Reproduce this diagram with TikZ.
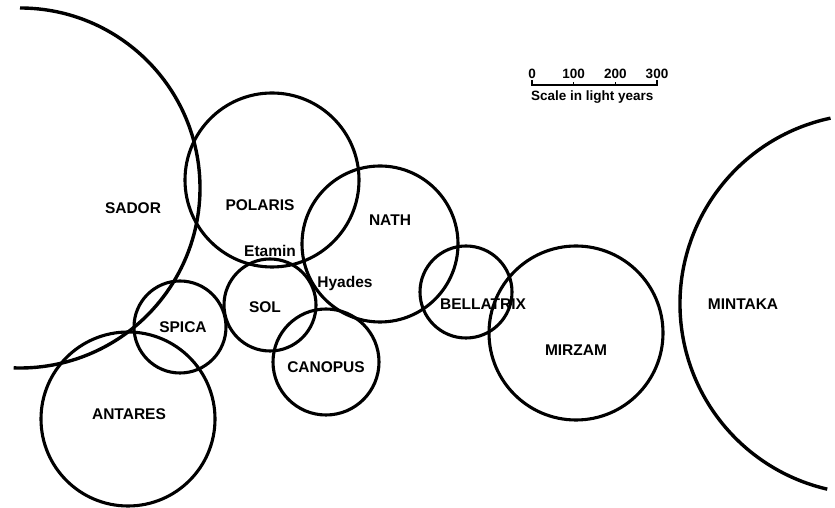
\documentclass[tikz,border=0pt]{standalone}
\usepackage{fontspec}
\setmainfont{Liberation Sans}
\usepackage{tikz}
\usetikzlibrary{positioning, calc}

\begin{document}
\begin{tikzpicture}[
    x=1pt,y=1pt,
    ring/.style={draw, circle, inner sep=0pt, line width=3.1pt},
    bigarc/.style={line width=3.4pt},
    starname/.style={font=\bfseries\fontsize{15.5}{15.5}\selectfont, inner sep=0pt},
    scaletext/.style={font=\bfseries\fontsize{13.5}{13.5}\selectfont, inner sep=0pt}
]
    \useasboundingbox (0,0) rectangle (835,508);

    % --- Giant stars (partly off the page) ---
    \draw[bigarc] (20,320) ++(90:180) arc[start angle=90, end angle=-92, radius=180];
    \draw[bigarc] (870,204) ++(102:190) arc[start angle=102, end angle=257, radius=190];

    % --- Stars ---
    \node[ring, minimum size=174pt] (polaris) at (272,328) {};
    \node[ring, minimum size=156pt] (nath) at (380,264) {};
    \node[ring, minimum size=92pt] (sol) at (270,203) {};
    \node[ring, minimum size=92pt] (spica) at (180,181) {};
    \node[ring, minimum size=106pt] (canopus) at (326,146) {};
    \node[ring, minimum size=174pt] (antares) at (128,89) {};
    \node[ring, minimum size=92pt] (bellatrix) at (466,216) {};
    \node[ring, minimum size=174pt] (mirzam) at (576,175) {};

    % --- Names ---
    \node[starname] (sadorlbl) at (133,300) {SADOR};
    \node[starname] (polarislbl) at (260,303) {POLARIS};
    \node[starname] (nathlbl) at (390,288) {NATH};
    \node[starname] (etaminlbl) at (270,257) {Etamin};
    \node[starname] (hyadeslbl) at (345,225) {Hyades};
    \node[starname] (sollbl) at (265,201) {SOL};
    \node[starname] (spicalbl) at (183,181) {SPICA};
    \node[starname] (canopuslbl) at (326,141) {CANOPUS};
    \node[starname] (antareslbl) at (129,94) {ANTARES};
    \node[starname] (bellatrixlbl) at (483,204) {BELLATRIX};
    \node[starname] (mirzamlbl) at (576,158) {MIRZAM};
    \node[starname] (mintakalbl) at (743,204) {MINTAKA};

    % --- Scale bar ---
    \coordinate (s0) at (532,423);
    \coordinate (s1) at (573.7,423);
    \coordinate (s2) at (615.3,423);
    \coordinate (s3) at (657,423);
    \draw[line width=1.5pt] ($(s0)+(0,5)$) -- (s0) -- (s3) -- ($(s3)+(0,5)$);
    \draw[line width=1.2pt] (s1) -- ++(0,3);
    \draw[line width=1.2pt] (s2) -- ++(0,3);
    \node[scaletext, above=6pt of s0] (n0) {0};
    \node[scaletext, above=6pt of s1] (n1) {100};
    \node[scaletext, above=6pt of s2] (n2) {200};
    \node[scaletext, above=6pt of s3] (n3) {300};
    \node[scaletext, anchor=north west] (scalelbl) at (531,417) {Scale in light years};

\end{tikzpicture}
\end{document}
